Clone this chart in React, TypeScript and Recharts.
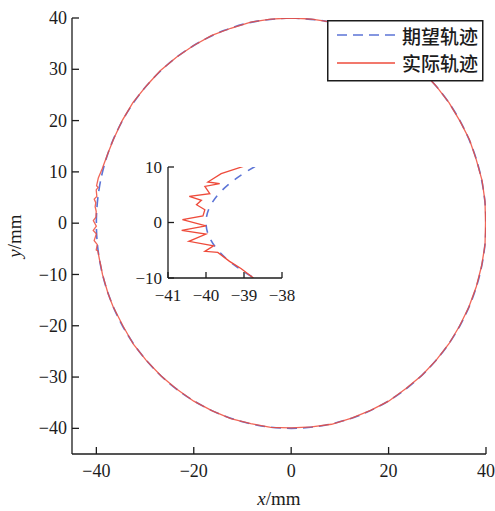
import { Label, Line, LineChart, XAxis, YAxis } from "recharts";

// desired trajectory: circle r = 40, read every 10 deg, starting at the top, going left
const desiredX = [
  0, -6.95, -13.68, -20, -25.71, -30.64, -34.64, -37.59, -39.39, -40, -39.39, -37.59,
  -34.64, -30.64, -25.71, -20, -13.68, -6.95, 0, 6.95, 13.68, 20, 25.71, 30.64, 34.64,
  37.59, 39.39, 40, 39.39, 37.59, 34.64, 30.64, 25.71, 20, 13.68, 6.95, 0,
];
const desiredY = [
  40, 39.39, 37.59, 34.64, 30.64, 25.71, 20, 13.68, 6.95, 0, -6.95, -13.68, -20, -25.71,
  -30.64, -34.64, -37.59, -39.39, -40, -39.39, -37.59, -34.64, -30.64, -25.71, -20,
  -13.68, -6.95, 0, 6.95, 13.68, 20, 25.71, 30.64, 34.64, 37.59, 39.39, 40,
];

// actual trajectory, upper-left arc
const upperX = [0, -4.2, -8.3, -12.4, -16.3, -20.1, -23.5, -26.9, -29.7, -32.5, -34.7, -36.5, -37.6];
const upperY = [40, 39.8, 39.2, 38.0, 36.6, 34.6, 32.4, 29.7, 26.8, 23.5, 20.0, 16.3, 13.7];

// actual trajectory around x = -40 (the zoomed part)
const zigX = [
  -38.8, -39.6, -39.95, -39.64, -40.03, -39.9, -40.44, -40.12, -40.25, -40.03, -40.08,
  -40.62, -40.0, -40.64, -40.0, -40.45, -39.8, -40.03, -39.69, -39.38, -39.08, -38.75,
];
const zigY = [
  10.6, 8.8, 7.3, 7.0, 6.5, 5.2, 4.7, 4.0, 3.2, 2.3, 1.2, 0.5, -0.6, -1.4, -2.1, -3.4,
  -4.2, -5.2, -5.4, -7.0, -8.3, -10.0,
];

// actual trajectory, from lower-left round to the top
const lowerX = [
  -37.6, -36.6, -34.5, -32.4, -29.8, -26.7, -23.6, -20.0, -16.2, -12.4, -8.3, -4.2, 0.0,
  4.2, 8.3, 12.4, 16.3, 20.0, 23.5, 26.8, 29.7, 32.4, 34.6, 36.5, 38.0, 39.1, 39.8, 39.9,
  39.8, 39.2, 38.0, 36.6, 34.6, 32.4, 29.7, 26.8, 23.5, 20.0, 16.3, 12.4, 8.3, 4.2, 0,
];
const lowerY = [
  -13.7, -16.2, -20.1, -23.6, -26.7, -29.8, -32.3, -34.7, -36.6, -38.1, -39.1, -39.8,
  -39.9, -39.7, -39.2, -38.0, -36.5, -34.7, -32.3, -29.7, -26.8, -23.5, -20.0, -16.3,
  -12.4, -8.3, -4.2, 0.0, 4.2, 8.3, 12.4, 16.3, 20.0, 23.5, 26.8, 29.7, 32.4, 34.6, 36.5,
  38.0, 39.2, 39.8, 40,
];

const mainTicksX = [-40, -20, 0, 20, 40];
const mainTicksY = [40, 30, 20, 10, 0, -10, -20, -30, -40];
const insetTicksX = [-41, -40, -39, -38];
const insetTicksY = [10, 0, -10];
const seriesNames = ["期望轨迹", "实际轨迹"];

const RED = "#ee4b3b";
const BLUE = "#5c74d6";
const INK = "#1c1c1c";
const SERIF = '"Liberation Serif", "Times New Roman", serif';
const CJK = '"Noto Sans CJK SC", sans-serif';

const toPoints = (xs: number[], ys: number[]) => xs.map((x, i) => ({ x, y: ys[i] }));
const fmt = (v: number) => (v < 0 ? `\u2212${Math.abs(v)}` : `${v}`);

const desired = toPoints(desiredX, desiredY);
const actual = toPoints([...upperX, ...zigX, ...lowerX], [...upperY, ...zigY, ...lowerY]);
const insetActual = toPoints(zigX, zigY);

function LeftTick(props: any) {
  const { x, y, payload, size, len, gap } = props;
  return (
    <g>
      <line x1={x} y1={y} x2={x + len} y2={y} stroke={INK} strokeWidth={1.3} />
      <text x={x - gap} y={y} dy="0.34em" textAnchor="end" fontFamily={SERIF} fontSize={size} fill={INK}>
        {fmt(payload.value)}
      </text>
    </g>
  );
}

function BottomTick(props: any) {
  const { x, y, payload, size, len, drop } = props;
  return (
    <g>
      <line x1={x} y1={y} x2={x} y2={y - len} stroke={INK} strokeWidth={1.3} />
      <text x={x} y={y + drop} textAnchor="middle" fontFamily={SERIF} fontSize={size} fill={INK}>
        {fmt(payload.value)}
      </text>
    </g>
  );
}

function Legend() {
  return (
    <svg width={157} height={62} style={{ position: "absolute", left: 327, top: 20 }}>
      <rect x={0.75} y={0.75} width={155} height={60} fill="#fff" stroke={INK} strokeWidth={1.5} />
      <line x1={10} y1={15} x2={68} y2={15} stroke={BLUE} strokeWidth={1.5} strokeDasharray="10 6" />
      <line x1={10} y1={43} x2={68} y2={43} stroke={RED} strokeWidth={1.5} />
      <text x={75} y={24} fontFamily={CJK} fontWeight={500} fontSize={19} fill={INK}>{seriesNames[0]}</text>
      <text x={75} y={51} fontFamily={CJK} fontWeight={500} fontSize={19} fill={INK}>{seriesNames[1]}</text>
    </svg>
  );
}

export default function App() {
  return (
    <div style={{ position: "absolute", left: 0, top: 0, width: 495, height: 511, background: "#fff" }}>
      <LineChart width={495} height={511} margin={{ top: 18, right: 9, bottom: 27, left: 32 }}>
        <XAxis
          type="number"
          dataKey="x"
          domain={[-45, 40]}
          allowDataOverflow
          ticks={mainTicksX}
          interval={0}
          height={30}
          tickSize={0}
          tickMargin={0}
          tickLine={false}
          axisLine={{ stroke: INK, strokeWidth: 1.3 }}
          tick={(p: any) => <BottomTick {...p} size={18} len={7} drop={23} />}
        >
          <Label
            content={(p: any) => {
              const vb = p.viewBox;
              return (
                <text x={vb.x + vb.width / 2} y={vb.y + 51} textAnchor="middle" fontFamily={SERIF} fontSize={19} fill={INK}>
                  <tspan fontStyle="italic">x</tspan>/mm
                </text>
              );
            }}
          />
        </XAxis>
        <YAxis
          type="number"
          dataKey="y"
          domain={[-45, 40]}
          allowDataOverflow
          ticks={mainTicksY}
          interval={0}
          width={40}
          tickSize={0}
          tickMargin={0}
          tickLine={false}
          axisLine={{ stroke: INK, strokeWidth: 1.3 }}
          tick={(p: any) => <LeftTick {...p} size={18} len={7} gap={5} />}
        >
          <Label
            content={(p: any) => {
              const vb = p.viewBox;
              const cx = vb.x - 11;
              const cy = vb.y + vb.height / 2;
              return (
                <text x={cx} y={cy} transform={`rotate(-90 ${cx} ${cy})`} textAnchor="middle" fontFamily={SERIF} fontSize={19} fill={INK}>
                  <tspan fontStyle="italic">y</tspan>/mm
                </text>
              );
            }}
          />
        </YAxis>
        <Line
          data={desired}
          dataKey="y"
          type="natural"
          stroke={BLUE}
          strokeWidth={1.6}
          strokeDasharray="10 6"
          dot={false}
          activeDot={false}
          isAnimationActive={false}
        />
        <Line
          data={actual}
          dataKey="y"
          type="linear"
          stroke={RED}
          strokeOpacity={0.85}
          strokeWidth={1.3}
          dot={false}
          activeDot={false}
          isAnimationActive={false}
        />
      </LineChart>

      <div style={{ position: "absolute", left: 130, top: 150 }}>
        <LineChart width={175} height={175} margin={{ top: 17, right: 23, bottom: 22, left: 8 }}>
          <XAxis
            type="number"
            dataKey="x"
            domain={[-41, -38]}
            allowDataOverflow
            ticks={insetTicksX}
            interval={0}
            height={25}
            tickSize={0}
            tickMargin={0}
            tickLine={false}
            axisLine={{ stroke: INK, strokeWidth: 1.3 }}
            tick={(p: any) => <BottomTick {...p} size={17} len={6} drop={23} />}
          />
          <YAxis
            type="number"
            dataKey="y"
            domain={[-10, 10]}
            allowDataOverflow
            ticks={insetTicksY}
            interval={0}
            width={30}
            tickSize={0}
            tickMargin={0}
            tickLine={false}
            axisLine={{ stroke: INK, strokeWidth: 1.3 }}
            tick={(p: any) => <LeftTick {...p} size={17} len={6} gap={6} />}
          />
          <Line
            data={desired}
            dataKey="y"
            type="natural"
            stroke={BLUE}
            strokeWidth={1.6}
            strokeDasharray="8 8"
            dot={false}
            activeDot={false}
            isAnimationActive={false}
          />
          <Line
            data={insetActual}
            dataKey="y"
            type="linear"
            stroke={RED}
            strokeWidth={1.3}
            dot={false}
            activeDot={false}
            isAnimationActive={false}
          />
        </LineChart>
      </div>

      <Legend />
    </div>
  );
}
